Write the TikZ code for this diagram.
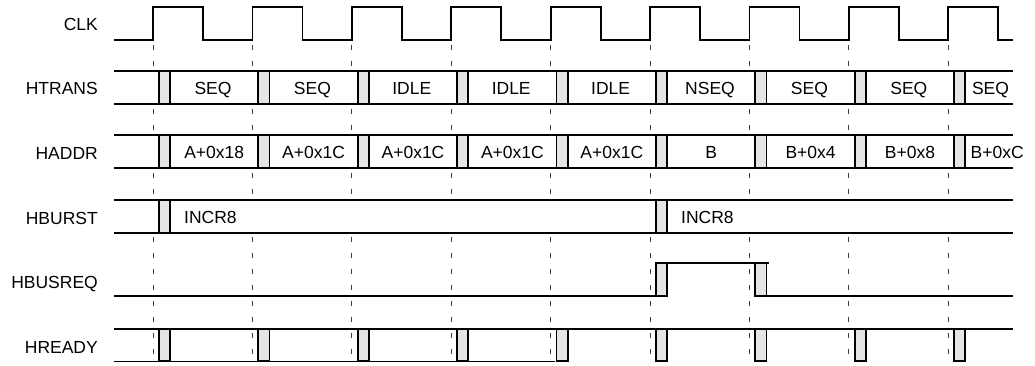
\documentclass[tikz,border=0pt]{standalone}
\usepackage{fontspec}
\setmainfont{Liberation Sans}
\begin{document}
\begin{tikzpicture}[x=1pt,y=-1pt,
  sig/.style={line width=1.8pt, line cap=butt, line join=miter},
  thinsig/.style={line width=1.4pt},
  gridline/.style={line width=0.9pt, dash pattern=on 5pt off 11pt, black!75},
  tbox/.style={draw=black, line width=1.8pt, fill=gray!20},
  busfill/.style={fill=white, draw=none},
  lbl/.style={font=\fontsize{17.5}{20}\selectfont, inner sep=0pt},
]
\useasboundingbox (0,0) rectangle (1035,365);

% dashed grid at clock rising edges
\foreach \k in {0,...,8} {
  \pgfmathsetmacro\e{153+99.4*\k}
  \draw[gridline] (\e,45) -- (\e,365);
}

% CLK
\draw[sig] (114,40)
  \foreach \k in {0,...,8} {
    -- ({153+99.4*\k},40) -- ({153+99.4*\k},7) -- ({203+99.4*\k},7) -- ({203+99.4*\k},40)
  } -- (1013,40);

% bus rows: HTRANS, HADDR, HBURST
\foreach \t/\b in {71/104, 135/168, 200/233} {
  \fill[busfill] (114,\t) rectangle (1013,\b);
  \draw[sig] (114,\t) -- (1013,\t);
  \draw[sig] (114,\b) -- (1013,\b);
}
\foreach \k in {0,...,8} {
  \pgfmathsetmacro\g{153+99.4*\k+5.9}
  \pgfmathsetmacro\h{153+99.4*\k+17.1}
  \draw[tbox] (\g,71) rectangle (\h,104);
  \draw[tbox] (\g,135) rectangle (\h,168);
}
\foreach \k in {0,5} {
  \pgfmathsetmacro\g{153+99.4*\k+5.9}
  \pgfmathsetmacro\h{153+99.4*\k+17.1}
  \draw[tbox] (\g,200) rectangle (\h,233);
}

% HBUSREQ
\draw[sig] (114,296) -- (656,296);
\draw[sig] (656,263) -- (769,263);
\draw[sig] (755,296) -- (1013,296);
\draw[tbox] (655.9,263) rectangle (667.1,296);
\draw[tbox] (755.3,263) rectangle (766.5,296);

% HREADY
\draw[thinsig] (114,329) -- (1013,329);
\draw[thinsig] (114,361.5) -- (555,361.5);
\foreach \k in {0,...,8} {
  \pgfmathsetmacro\g{153+99.4*\k+5.9}
  \pgfmathsetmacro\h{153+99.4*\k+17.1}
  \draw[tbox] (\g,329) rectangle (\h,361);
}

% signal labels
\node[lbl, anchor=base east] (lclk) at (98,30.8) {CLK};
\node[lbl, anchor=base east] (ltrans) at (98,94.5) {HTRANS};
\node[lbl, anchor=base east] (laddr) at (98,159) {HADDR};
\node[lbl, anchor=base east] (lburst) at (98,224) {HBURST};
\node[lbl, anchor=base east] (lbusreq) at (98,288) {HBUSREQ};
\node[lbl, anchor=base east] (lready) at (98,353) {HREADY};

% HTRANS values
\foreach \k/\s in {0/SEQ,1/SEQ,2/IDLE,3/IDLE,4/IDLE,5/NSEQ,6/SEQ,7/SEQ} {
  \node[lbl, anchor=base] (tr\k) at ({153+99.4*\k+60},94) {\s};
}
\node[lbl, anchor=base] (tr8) at (990.5,94) {SEQ};

% HADDR values
\foreach \k/\s in {0/A+0x18,1/A+0x1C,2/A+0x1C,3/A+0x1C,4/A+0x1C,5/B,6/B+0x4,7/B+0x8} {
  \node[lbl, anchor=base] (ad\k) at ({153+99.4*\k+61.2},158) {\s};
}
\node[lbl, anchor=base west] (ad8) at (970.5,158) {B+0xC};

% HBURST values
\node[lbl, anchor=base west] (bu0) at (184,223) {INCR8};
\node[lbl, anchor=base west] (bu5) at (681,223) {INCR8};
\end{tikzpicture}
\end{document}
